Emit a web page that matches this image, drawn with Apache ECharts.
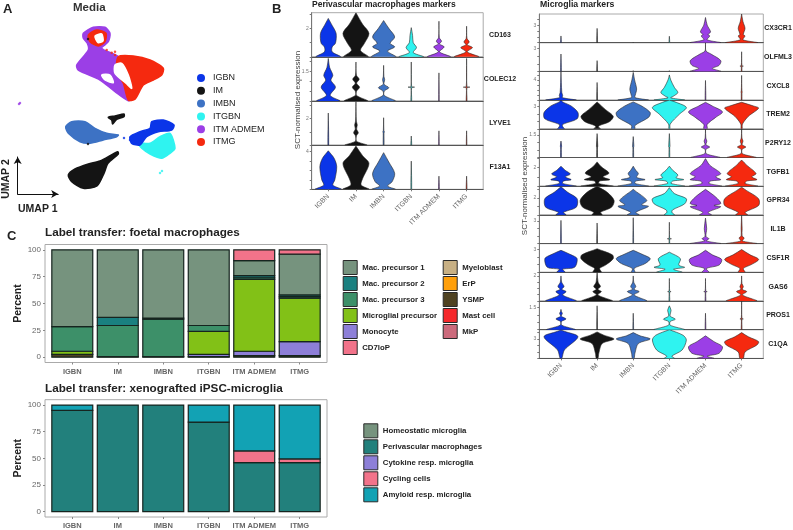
<!DOCTYPE html>
<html>
<head>
<meta charset="utf-8">
<style>
  html, body { margin: 0; padding: 0; background: #fff; }
  #chart { width: 793px; height: 530px; }
</style>
<script src="https://cdn.jsdelivr.net/npm/echarts@6/dist/echarts.min.js"></script>
</head>
<body>
<div id="chart"></div>
<script>
const FONT = '"Liberation Sans", Arial, sans-serif';

// clusters, shared by all panels
const clusters = ['IGBN', 'IM', 'IMBN', 'ITGBN', 'ITM ADMEM', 'ITMG'];
const clusterColors = ['#0b35e8', '#141414', '#3d72c4', '#2ff3f0', '#9b3fe6', '#f5290f'];

// panel A: cluster outlines in UMAP units
const umapIGBN = [[[13, 8.33], [14, 8.83], [15, 9.17], [15.17, 9.83], [16.33, 10], [17.4, 9.5], [17.17, 9], [15.83, 8.83], [14.67, 8.33], [14, 7.5], [13.17, 7.67]]];
const umapIM = [
  [[10.83, 10.27], [11.5, 10.4], [12.4, 10.6], [12.4, 10.33], [11.67, 10.07], [11.27, 9.6], [11.17, 10]],
  [[11.77, 6.83], [10, 5.9], [8.83, 5.6], [7.5, 5.1], [6.83, 4.5], [7.17, 3.83], [8.33, 3.17], [9.7, 3.4], [10.4, 4.67], [10.8, 5.67], [11.83, 6.6]]
];
const umapIMBN = [[[6.57, 9.33], [7.17, 9.83], [8.5, 9.83], [9.5, 9.17], [10.67, 8.67], [11.83, 8.5], [11.67, 8.33], [10.33, 8], [9, 7.67], [8, 7.83], [6.83, 8.67]]];
const umapITGBN = [[[13.83, 7.67], [15, 7.67], [16, 8.33], [17, 8.67], [17.5, 7.17], [17, 6.67], [16.17, 6.17], [15, 6.6], [14.17, 7.17]]];
const umapITM = [[[8.33, 18.67], [9.33, 19.27], [10.5, 19.27], [11, 18.67], [10.83, 17.83], [10.17, 17.17], [11.83, 16.33], [11.67, 15.33], [12.33, 13.67], [13.33, 12.17], [12.83, 11.93], [11.5, 12.83], [10, 14], [7.83, 15], [7.67, 15.5], [8.83, 17], [8.73, 17.67], [8.33, 18.17]]];
const umapITMG = [
  [[11.83, 16.33], [13.33, 16.4], [15, 16], [16.33, 15.17], [16.17, 14.5], [15.33, 14], [14.33, 13.5], [13.5, 12.07], [12.83, 12], [12.33, 13.67], [11.67, 14.83]],
  [[8.83, 18.5], [9.67, 19], [10.6, 18.67], [10.5, 17.83], [9.83, 17.4], [9, 17.83]]
];
const umapGaps = [
  [[9.5, 18.4], [10.17, 18.6], [10.3, 17.9], [9.8, 17.75]],
  [[11.5, 15.5], [12.17, 15.67], [12.83, 14.5], [13.17, 13.17], [12.6, 13.67], [11.5, 14.67]],
  [[10.17, 14.5], [11, 14.5], [11.33, 13.73], [10.5, 14]]
];
const umapStrays = [
  [[12.4, 8.2], [13, 8]], [[8.8, 18.1]], [[8.8, 7.6]], [[16, 4.7], [16.2, 4.9]], [[1.9, 11.6], [2, 11.7]],
  [[10.67, 17], [11.17, 16.73], [11.5, 16.5], [11.5, 16.83]]
];

// violins: one profile per cluster, [expression, relative half width]
const CD163 = [
  [[0, .95], [.35, .3], [.7, .3], [.95, .55], [1.65, .6], [2.2, .3], [2.7, 0]],
  [[0, .95], [.45, .35], [.95, .65], [1.65, 1], [2.3, .5], [3.1, 0]],
  [[0, .95], [.4, .3], [.7, .85], [.95, .5], [1.4, .85], [2, .4], [2.55, 0]],
  [[0, .95], [.3, .15], [.65, .4], [1, .15], [1.5, .1], [2.05, 0]],
  [[0, .9], [.35, .05], [.7, .4], [.9, .05], [1.1, .2], [1.35, .03], [2.5, 0]],
  [[0, .95], [.35, .05], [.65, .45], [.85, .05], [1.05, .2], [1.3, .03], [2.15, 0]]
];
const COLEC12 = [
  [[0, .9], [.28, .15], [.7, .55], [1.05, .2], [1.3, .35], [1.7, .1], [2.15, 0]],
  [[0, .9], [.28, .05], [.5, .05], [.7, .28], [.9, .05], [1.1, .25], [1.3, .04], [1.97, 0]],
  [[0, .9], [.28, .05], [.5, .05], [.67, .4], [.85, .03], [1.08, .08], [1.25, .02], [1.8, 0]],
  [[0, .03], [.68, .03], [.7, .25], [.72, .03], [1.97, 0]],
  [[0, .02], [1.42, 0]],
  [[0, .03], [.68, .03], [.7, .25], [.72, .03], [2.15, 0]]
];
const LYVE1 = [
  [[0, .03], [2.4, 0]],
  [[0, .85], [.3, .04], [.7, .04], [.92, .18], [1.2, .05], [1.5, .1], [1.8, .03], [3.25, 0]],
  [[0, .03], [.9, .03], [1, .06], [1.1, .02], [2.05, 0]],
  [[0, .03], [.68, 0]],
  [[0, .02], [1.07, 0]],
  [[0, .02], [1.07, 0]]
];
const F13A1 = [
  [[0, 1], [.45, .35], [1, .5], [2.4, .65], [3.3, .45], [4.1, 0]],
  [[0, 1], [.45, .4], [1.1, .5], [2.75, 1], [3.6, .5], [4.6, 0]],
  [[0, .9], [.35, .3], [.8, .65], [1.7, .85], [2.9, .4], [3.9, 0]],
  [[0, .03], [3, 0]],
  [[0, .03], [1.4, 0]],
  [[0, .03], [1.4, 0]]
];
const CX3CR1 = [
  [[0, .02], [1.15, 0]],
  [[0, .02], [2.45, 0]],
  [[0, 0], [.1, 0]],
  [[0, .02], [1.1, 0]],
  [[0, .9], [.5, .1], [1.15, .25], [1.4, .15], [1.85, .3], [3, .1], [4.3, 0]],
  [[0, .95], [.5, .08], [1.15, .2], [1.4, .1], [2.45, .2], [3.6, .08], [4.9, 0]]
];
const OLFML3 = [
  [[0, .02], [2.3, 0]],
  [[0, .02], [1.43, 0]],
  [[0, 0], [.1, 0]],
  [[0, 0], [.1, 0]],
  [[0, .9], [.4, .4], [.8, .8], [1.43, .9], [2.33, .3], [2.7, .03], [3.8, 0]],
  [[0, .02], [.65, .02], [.7, .1], [.75, .02], [2.6, 0]]
];
const CXCL8 = [
  [[0, .9], [.5, .08], [.9, .1], [1.5, .05], [3.5, .02], [5.7, 0]],
  [[0, .02], [3.5, 0]],
  [[0, .9], [.5, .1], [1, .12], [2.2, .2], [4, .08], [5.5, 0]],
  [[0, .9], [.45, .08], [.8, .25], [1.5, .5], [2.5, .3], [4, .08], [5, 0]],
  [[0, .02], [3.9, 0]],
  [[0, .02], [1.5, .02], [1.6, .05], [1.7, .02], [4.9, 0]]
];
const TREM2 = [
  [[0, .2], [.3, .1], [.6, .1], [1.35, .95], [2.2, 1], [3.1, .6], [3.65, .1], [3.9, 0]],
  [[0, .2], [.25, .08], [.45, .15], [1, .75], [1.7, .95], [2.6, .5], [3.65, 0]],
  [[0, .1], [.45, .1], [1.55, .9], [2.2, 1], [3.1, .5], [3.65, 0]],
  [[0, .03], [.65, .05], [2, .6], [2.9, 1], [3.6, .4], [3.9, 0]],
  [[0, .1], [.6, .1], [1.55, .6], [2.3, 1], [3.1, .4], [3.6, 0]],
  [[0, .03], [.65, .05], [1.7, .4], [2.8, 1], [3.1, .7], [3.6, 0]]
];
const P2RY12 = [
  [[0, .02], [.7, .02], [.72, .04], [1.1, 0]],
  [[0, .02], [.7, .02], [.72, .04], [1.6, 0]],
  [[0, .02], [.7, .02], [.72, .04], [1.4, 0]],
  [[0, .02], [.7, .02], [.72, .04], [1.6, 0]],
  [[0, .85], [.25, .05], [.55, .03], [.7, .25], [.85, .03], [1.1, .08], [1.3, .02], [1.9, 0]],
  [[0, .85], [.25, .05], [.55, .03], [.7, .25], [.85, .03], [1.1, .08], [1.3, .02], [1.9, 0]]
];
const TGFB1 = [
  [[0, .9], [.3, .1], [.55, .15], [.7, .6], [1, .25], [1.3, .55], [1.7, .25], [2.14, 0]],
  [[0, .95], [.3, .1], [.55, .15], [.7, .75], [1, .35], [1.4, .7], [2.07, .25], [2.6, 0]],
  [[0, .9], [.3, .1], [.55, .15], [.7, .7], [.95, .2], [1.35, .3], [1.7, .15], [2.14, 0]],
  [[0, .9], [.3, .1], [.55, .2], [.7, .85], [.9, .4], [1.2, .5], [1.7, .2], [2.14, 0]],
  [[0, .95], [.3, .2], [.55, .3], [.7, .9], [1, .6], [1.35, .9], [2.25, .25], [2.95, 0]],
  [[0, .95], [.3, .2], [.55, .3], [.7, .9], [1, .6], [1.35, .85], [2.25, .3], [2.8, 0]]
];
const GPR34 = [
  [[0, .3], [.3, .15], [.9, .9], [1.9, .95], [2.65, .4], [3.3, 0]],
  [[0, .3], [.3, .2], [.9, .85], [1.7, 1], [2.65, .6], [3.35, 0]],
  [[0, .35], [.3, .15], [1, .9], [1.2, .5], [1.7, .8], [2.85, .1], [3, 0]],
  [[0, .3], [.3, .15], [.6, .2], [1.3, .9], [1.9, 1], [2.5, .3], [3.2, 0]],
  [[0, .35], [.3, .15], [.95, .9], [1.1, .5], [1.35, .9], [2.1, .6], [3, 0]],
  [[0, .35], [.3, .2], [1.1, 1], [1.9, 1], [2.85, .3], [3.25, 0]]
];
const IL1B = [
  [[0, .02], [3.1, 0]],
  [[0, .02], [2.75, 0]],
  [[0, .02], [3.45, 0]],
  [[0, .02], [.62, .02], [.65, .12], [.68, .02], [2.85, 0]],
  [[0, .9], [.35, .05], [.66, .2], [.95, .03], [2, .07], [3.4, 0]],
  [[0, .9], [.35, .05], [.75, .15], [1, .03], [2, .03], [3.75, 0]]
];
const CSF1R = [
  [[0, .25], [.4, .1], [.65, .8], [1.8, .95], [2.3, .6], [2.9, 0]],
  [[0, .25], [.5, .15], [.95, .5], [1.8, .95], [2.3, .9], [3.1, 0]],
  [[0, .1], [.5, .05], [1.15, .7], [1.8, 1], [2.3, .6], [2.9, 0]],
  [[0, .75], [.4, .25], [.65, .9], [.95, .55], [1.8, .65], [2.65, 0]],
  [[0, .2], [.5, .05], [.95, .8], [1.7, .95], [2.3, .4], [2.9, 0]],
  [[0, .2], [.5, .1], [1.05, .6], [1.7, 1], [2.3, .5], [3, 0]]
];
const GAS6 = [
  [[0, .9], [.48, .1], [.75, .3], [.93, .05], [1.15, .18], [1.5, .04], [2, 0]],
  [[0, .9], [.48, .05], [.75, .25], [.93, .05], [1.15, .2], [1.5, .06], [2.29, 0]],
  [[0, .8], [.48, .05], [.75, .35], [.93, .05], [1.15, .15], [1.5, .03], [2, 0]],
  [[0, .02], [.72, .02], [.75, .1], [.78, .02], [1.8, 0]],
  [[0, .02], [.72, .02], [.75, .1], [.78, .02], [1.8, 0]],
  [[0, .9], [.48, .05], [.75, .3], [.93, .04], [1.15, .1], [1.4, .02], [2, 0]]
];
const PROS1 = [
  [[0, .85], [.3, .05], [.55, .03], [.72, .3], [.9, .03], [1.1, .08], [1.2, .03], [1.36, 0]],
  [[0, .02], [1.6, 0]],
  [[0, .02], [1.1, 0]],
  [[0, .9], [.3, .05], [.55, .05], [.7, .35], [.9, .05], [1.05, .05], [1.3, .1], [1.6, 0]],
  [[0, .02], [1.1, 0]],
  [[0, .02], [.7, .02], [.72, .1], [.75, .02], [1.92, 0]]
];
const C1QA = [
  [[0, .05], [1.3, .2], [3.35, 1], [4.2, .2], [4.4, 0]],
  [[0, .05], [.8, .1], [2.3, .3], [3, 1], [3.6, .4], [4.1, 0]],
  [[0, .05], [.8, .1], [2.3, .3], [3, 1], [3.5, .4], [4, 0]],
  [[0, .3], [.35, .15], [1.3, .75], [2.85, 1], [3.6, .8], [4.45, 0]],
  [[0, .5], [.35, .1], [.8, .8], [1.8, 1], [2.6, .5], [3.5, 0]],
  [[0, .1], [1, .2], [2.07, .9], [2.6, 1], [3.35, .4], [4, 0]]
];

const markerGroupA = ['CD163', 'COLEC12', 'LYVE1', 'F13A1'];
const markerGroupB = ['CX3CR1', 'OLFML3', 'CXCL8', 'TREM2', 'P2RY12', 'TGFB1', 'GPR34', 'IL1B', 'CSF1R', 'GAS6', 'PROS1', 'C1QA'];
const geneProfiles = { CD163, COLEC12, LYVE1, F13A1, CX3CR1, OLFML3, CXCL8, TREM2, P2RY12, TGFB1, GPR34, IL1B, CSF1R, GAS6, PROS1, C1QA };
const geneMax = { CD163: 3.1, COLEC12: 2.23, LYVE1: 3.3, F13A1: 4.7, CX3CR1: 4.9, OLFML3: 3.8, CXCL8: 5.7, TREM2: 3.9, P2RY12: 1.92, TGFB1: 3.07, GPR34: 3.37, IL1B: 3.83, CSF1R: 3.78, GAS6: 2.29, PROS1: 1.92, C1QA: 4.45 };
const geneLabel = { CD163: 2, COLEC12: 1.5, LYVE1: 2, F13A1: 4, CX3CR1: 3, OLFML3: 3, CXCL8: 4, TREM2: 3, P2RY12: 1.5, TGFB1: 2, GPR34: 2, IL1B: 3, CSF1R: 3, GAS6: 2, PROS1: 1.5, C1QA: 3 };
const geneTicks = { CD163: [0, 1, 2, 3], COLEC12: [0, .5, 1, 1.5, 2], LYVE1: [0, 1, 2, 3], F13A1: [0, 1, 2, 3, 4], CX3CR1: [0, 1, 2, 3, 4], OLFML3: [0, 1, 2, 3], CXCL8: [0, 1, 2, 3, 4, 5], TREM2: [0, 1, 2, 3], P2RY12: [0, .5, 1, 1.5], TGFB1: [0, 1, 2, 3], GPR34: [0, 1, 2, 3], IL1B: [0, 1, 2, 3], CSF1R: [0, 1, 2, 3], GAS6: [0, .5, 1, 1.5, 2], PROS1: [0, .5, 1, 1.5], C1QA: [0, 1, 2, 3, 4] };

// panel C, percent per cluster, bottom segment first
const foetalYSMP = [2.5, .5, .5, .5, 1.5, 1.5];
const foetalMonocyte = [0, 0, 0, 2, 4, 13];
const foetalMicroglial = [3, 0, 0, 21.5, 67, 40.5];
const foetalPre3 = [23, 29, 35, 5.5, 1.5, 1.5];
const foetalPre2 = [0, 7.5, 1, 0, 2, 1.5];
const foetalPre1 = [71.5, 63, 63.5, 70.5, 14, 38];
const foetalCD7 = [0, 0, 0, 0, 10, 4];
const foetalOther = ['Myeloblast', 'ErP', 'Mast cell', 'MkP'];

const xenoPerivascular = [95, 100, 100, 84, 46, 46];
const xenoCycling = [0, 0, 0, 0, 11, 3.5];
const xenoAmyloid = [5, 0, 0, 16, 43, 50.5];
const xenoOther = ['Homeostatic microglia', 'Cytokine resp. microglia'];

const foetalLegendA = ['Mac. precursor 1', 'Mac. precursor 2', 'Mac. precursor 3', 'Microglial precursor', 'Monocyte', 'CD7loP'];
const foetalLegendB = ['Myeloblast', 'ErP', 'YSMP', 'Mast cell', 'MkP'];
const xenoLegend = ['Homeostatic microglia', 'Perivascular macrophages', 'Cytokine resp. microglia', 'Cycling cells', 'Amyloid resp. microglia'];

const labelColors = {
  'Mac. precursor 1': '#76937e', 'Mac. precursor 2': '#1a8080', 'Mac. precursor 3': '#3d9069',
  'Microglial precursor': '#82c117', 'Monocyte': '#8d7fd8', 'CD7loP': '#f2738a',
  'Myeloblast': '#c8b084', 'ErP': '#ff9f0a', 'YSMP': '#4f4221', 'Mast cell': '#f5282b', 'MkP': '#cc6a7c',
  'Homeostatic microglia': '#76937e', 'Perivascular macrophages': '#22807c', 'Cytokine resp. microglia': '#8d7fd8',
  'Cycling cells': '#f2738a', 'Amyloid resp. microglia': '#12a2b4'
};

const grid = [], xAxis = [], yAxis = [], series = [], graphic = [];

function addGrid(g, x, y) {
  grid.push(Object.assign({ containLabel: false }, g));
  const i = grid.length - 1;
  xAxis.push(Object.assign({ gridIndex: i }, x));
  yAxis.push(Object.assign({ gridIndex: i }, y));
  return i;
}

function text(str, x, y, size, opts) {
  graphic.push({
    type: 'text', x, y, rotation: (opts && opts.rotation) || 0, silent: true,
    style: {
      text: str, fontFamily: FONT, fontSize: size,
      fontWeight: opts && opts.normal ? 'normal' : 'bold',
      fill: (opts && opts.fill) || '#222',
      align: (opts && opts.align) || 'left', verticalAlign: 'middle'
    }
  });
}

// panel A
const umapGrid = addGrid(
  { left: 0, top: 0, width: 270, height: 220 },
  { type: 'value', min: 0, max: 27, show: false },
  { type: 'value', min: 0, max: 22, show: false }
);

function polygonSeries(name, blobs, color) {
  return {
    name, type: 'custom', xAxisIndex: umapGrid, yAxisIndex: umapGrid,
    coordinateSystem: 'cartesian2d', silent: true, clip: false,
    itemStyle: { color },
    data: blobs.map((b, i) => [b[0][0], b[0][1], i]),
    renderItem(params, api) {
      const pts = blobs[api.value(2)].map(p => api.coord(p));
      return { type: 'polygon', shape: { points: pts, smooth: 0.25 }, style: { fill: color, stroke: color, lineWidth: 1.5 } };
    }
  };
}

const umapOrder = [[2, umapIMBN], [1, umapIM], [3, umapITGBN], [0, umapIGBN], [4, umapITM], [5, umapITMG]];
umapOrder.forEach(([c, blobs]) => series.push(polygonSeries(clusters[c], blobs, clusterColors[c])));
series.push(polygonSeries('', umapGaps, '#fff'));
umapStrays.forEach((pts, i) => {
  const c = [0, 1, 1, 3, 4, 5][i];
  series.push({
    type: 'scatter', xAxisIndex: umapGrid, yAxisIndex: umapGrid, silent: true,
    symbolSize: 2.5, itemStyle: { color: clusterColors[c] }, data: pts
  });
});

// UMAP direction arrows
addGrid(
  { left: 17.7, top: 157, width: 40.5, height: 37 },
  {
    type: 'value', min: 0, max: 1, position: 'bottom',
    axisLine: { show: true, symbol: ['none', 'arrow'], symbolSize: [6, 7], lineStyle: { color: '#111', width: 1 } },
    axisTick: { show: false }, axisLabel: { show: false }, splitLine: { show: false }
  },
  {
    type: 'value', min: 0, max: 1, position: 'left',
    axisLine: { show: true, symbol: ['none', 'arrow'], symbolSize: [6, 7], lineStyle: { color: '#111', width: 1 } },
    axisTick: { show: false }, axisLabel: { show: false }, splitLine: { show: false }
  }
);

// panel B
function violinSeries(gene, idx) {
  const profiles = geneProfiles[gene];
  return {
    type: 'custom', xAxisIndex: idx, yAxisIndex: idx, coordinateSystem: 'cartesian2d',
    silent: true, clip: true, itemStyle: { color: '#000' },
    data: clusters.map((c, i) => [i, 0]),
    renderItem(params, api) {
      const i = api.value(0);
      const prof = profiles[i];
      const left = prof.map(([y, w]) => api.coord([i - w * 0.47, y]));
      const right = prof.slice().reverse().map(([y, w]) => api.coord([i + w * 0.47, y]));
      return {
        type: 'polygon', shape: { points: left.concat(right), smooth: 0.3 },
        style: { fill: clusterColors[i], stroke: '#2a2a2a', lineWidth: 0.6 }
      };
    }
  };
}

function addViolinRows(genes, left, width, top, rowH, labelX) {
  genes.forEach((gene, r) => {
    const last = r === genes.length - 1;
    const idx = addGrid(
      { left, width, top: top + r * rowH, height: rowH, show: true, borderColor: '#aaa', borderWidth: 1, backgroundColor: 'transparent' },
      {
        type: 'value', min: -0.6, max: 5.6, splitLine: { show: false },
        axisLine: { show: true, onZero: false, lineStyle: { color: '#555', width: 1 } },
        axisTick: { show: last, length: 2, lineStyle: { color: '#777' }, customValues: [0, 1, 2, 3, 4, 5] },
        axisLabel: {
          show: last, rotate: 45, margin: 6, fontFamily: FONT, fontSize: 7, color: '#666',
          customValues: [0, 1, 2, 3, 4, 5], formatter: v => clusters[v]
        }
      },
      {
        type: 'value', min: 0, max: geneMax[gene], splitLine: { show: false },
        axisLine: { show: true, onZero: false, lineStyle: { color: '#777', width: 1 } },
        axisTick: { show: true, length: 2, lineStyle: { color: '#777' }, customValues: geneTicks[gene] },
        axisLabel: { show: true, margin: 3, fontFamily: FONT, fontSize: 5, color: '#777', customValues: [geneLabel[gene]] }
      }
    );
    series.push(violinSeries(gene, idx));
    text(gene, labelX, top + r * rowH + rowH / 2, 7, { align: 'center' });
  });
}

addViolinRows(markerGroupA, 311.7, 171.5, 12.7, 44.15, 500);
addViolinRows(markerGroupB, 539.3, 224, 14, 28.7, 778);

// panel C
function stackedBars(layers, idx) {
  const base = clusters.map(() => 0);
  layers.forEach(([name, values]) => {
    const rows = [];
    values.forEach((v, i) => {
      if (v > 0) rows.push([i, base[i], base[i] + v]);
      base[i] += v;
    });
    const color = labelColors[name];
    series.push({
      name, type: 'custom', xAxisIndex: idx, yAxisIndex: idx, coordinateSystem: 'cartesian2d', silent: true,
      itemStyle: { color, borderColor: '#1c2b28', borderWidth: 1 },
      encode: { x: 0, y: [1, 2] },
      data: rows,
      renderItem(params, api) {
        const i = api.value(0);
        const a = api.coord([i - 0.45, api.value(1)]);
        const b = api.coord([i + 0.45, api.value(2)]);
        return {
          type: 'rect', shape: { x: a[0], y: b[1], width: b[0] - a[0], height: a[1] - b[1] },
          style: { fill: color, stroke: '#16241f', lineWidth: 1.2 }
        };
      }
    });
  });
}

function addBarGrid(top) {
  return addGrid(
    { left: 45, width: 282, top, height: 118, show: true, borderColor: '#aaa', borderWidth: 1 },
    {
      type: 'value', min: -0.6, max: 5.6, splitLine: { show: false },
      axisLine: { show: false, onZero: false },
      axisTick: { show: true, length: 2, lineStyle: { color: '#888' }, customValues: [0, 1, 2, 3, 4, 5] },
      axisLabel: {
        margin: 5, fontFamily: FONT, fontSize: 7.5, fontWeight: 'bold', color: '#666',
        customValues: [0, 1, 2, 3, 4, 5], formatter: v => clusters[v]
      }
    },
    {
      type: 'value', min: -5, max: 105, splitLine: { show: false },
      axisLine: { show: false, onZero: false },
      axisTick: { show: true, length: 2, lineStyle: { color: '#888' }, customValues: [0, 25, 50, 75, 100] },
      axisLabel: { margin: 4, fontFamily: FONT, fontSize: 8, color: '#666', customValues: [0, 25, 50, 75, 100] },
      name: 'Percent', nameLocation: 'middle', nameGap: 20, nameRotate: 90,
      nameTextStyle: { fontFamily: FONT, fontSize: 10.5, fontWeight: 'bold', color: '#222' }
    }
  );
}

const barTop = addBarGrid(244.5);
stackedBars([
  ['YSMP', foetalYSMP], ['Monocyte', foetalMonocyte], ['Microglial precursor', foetalMicroglial],
  ['Mac. precursor 3', foetalPre3], ['Mac. precursor 2', foetalPre2], ['Mac. precursor 1', foetalPre1],
  ['CD7loP', foetalCD7]
].concat(foetalOther.map(n => [n, []])), barTop);

const barBottom = addBarGrid(399.7);
stackedBars([
  ['Perivascular macrophages', xenoPerivascular], ['Cycling cells', xenoCycling], ['Amyloid resp. microglia', xenoAmyloid]
].concat(xenoOther.map(n => [n, []])), barBottom);

// text
text('A', 3, 9, 13);
text('B', 272, 9, 13);
text('C', 7, 236, 13);
text('Media', 73, 8, 11.5, { fill: '#333' });
text('UMAP 1', 18, 209, 10.5);
text('UMAP 2', 6, 179, 10.5, { rotation: Math.PI / 2, align: 'center' });
text('Perivascular macrophages markers', 312, 5, 8.5);
text('Microglia markers', 540, 5, 8.7);
text('SCT-normalised expression', 298, 100, 8, { rotation: Math.PI / 2, align: 'center', normal: true, fill: '#444' });
text('SCT-normalised expression', 525, 186, 8, { rotation: Math.PI / 2, align: 'center', normal: true, fill: '#444' });
text('Label transfer: foetal macrophages', 45, 233, 11.7);
text('Label transfer: xenografted iPSC-microglia', 45, 389, 11.7);

function boxLegend(names, left, top) {
  return {
    data: names, left, top, padding: 0, orient: 'vertical', itemWidth: 14, itemHeight: 14, itemGap: 1,
    selectedMode: false, icon: 'rect',
    itemStyle: { borderColor: '#2a2a2a', borderWidth: 1 },
    textStyle: { fontFamily: FONT, fontSize: 7.8, fontWeight: 'bold', color: '#222' }
  };
}

const legend = [
  {
    data: clusters, left: 197, top: 73.5, padding: 0, orient: 'vertical', itemWidth: 8, itemHeight: 8, itemGap: 3.8,
    selectedMode: false, icon: 'circle',
    textStyle: { fontFamily: FONT, fontSize: 9, color: '#222', padding: [0, 0, 0, 3] }
  },
  boxLegend(foetalLegendA, 342.7, 260),
  boxLegend(foetalLegendB, 442.7, 260),
  boxLegend(xenoLegend, 363.3, 423.3)
];

const chart = echarts.init(document.getElementById('chart'), null, { renderer: 'canvas' });
chart.setOption({
  animation: false, backgroundColor: '#fff', tooltip: { show: false },
  grid, xAxis, yAxis, series, legend, graphic
});
</script>
</body>
</html>
